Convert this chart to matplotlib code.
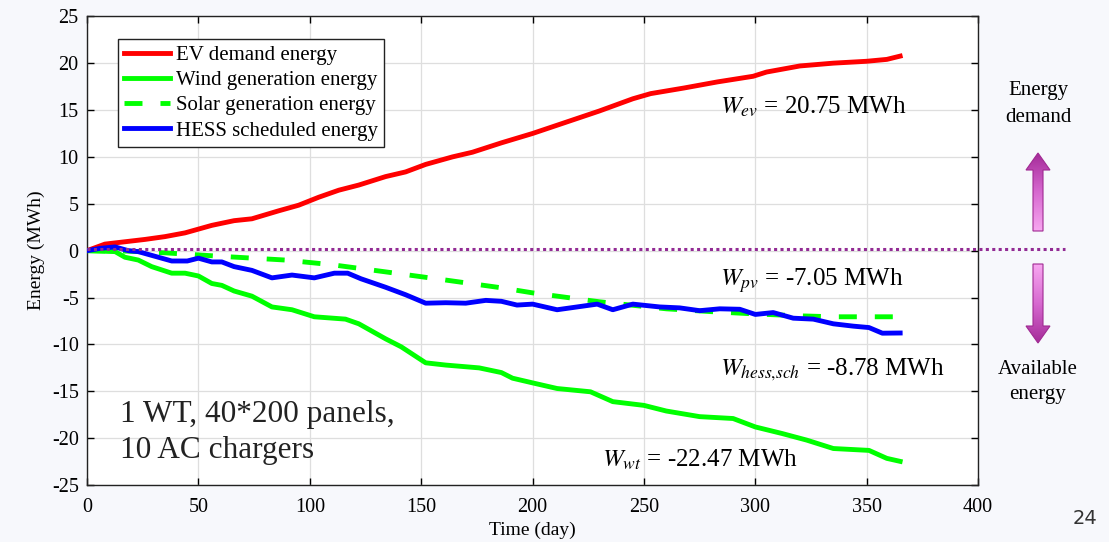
import matplotlib
matplotlib.use("Agg")
import matplotlib.pyplot as plt
import numpy as np
from matplotlib.patches import FancyArrow

plt.rcParams['font.family'] = ['Liberation Serif', 'DejaVu Serif']
plt.rcParams['mathtext.fontset'] = 'stix'
plt.rcParams['axes.unicode_minus'] = False

# EV demand energy (MWh) vs day
ev_days = [0, 8, 17, 26, 35, 44, 56, 66, 74, 86, 95, 104, 113, 122, 134, 143, 152,
           164, 173, 186, 200, 215, 230, 245, 253, 268, 283, 299, 305, 320, 335,
           350, 359, 365]
ev_vals = [0.0, 0.7, 0.95, 1.2, 1.5, 1.9, 2.7, 3.2, 3.4, 4.25, 4.85, 5.7, 6.45, 7.0,
           7.9, 8.4, 9.2, 10.0, 10.5, 11.5, 12.5, 13.7, 14.9, 16.2, 16.75, 17.35,
           18.0, 18.6, 19.05, 19.7, 20.0, 20.2, 20.4, 20.75]

# wind generation energy
wt_days = [0, 12.6, 17, 23, 29, 38, 44, 50, 56, 60.5, 66, 74, 83, 92, 102, 116, 122,
           134, 141, 152, 161, 176, 186, 191, 200, 211, 226, 236, 250, 260, 275,
           290, 300, 312, 323, 335, 351, 359, 365]
wt_vals = [0.0, -0.1, -0.7, -1.0, -1.7, -2.4, -2.4, -2.7, -3.5, -3.7, -4.3, -4.85,
           -6.0, -6.3, -7.05, -7.3, -7.8, -9.4, -10.25, -11.96, -12.2, -12.5, -13.0,
           -13.6, -14.1, -14.7, -15.05, -16.1, -16.5, -17.1, -17.7, -17.9, -18.8,
           -19.5, -20.2, -21.1, -21.3, -22.15, -22.47]

# solar generation energy
pv_days = [0, 18, 35, 60, 89, 110, 134, 160, 186, 200, 230, 260, 280, 300, 320, 335, 365]
pv_vals = [0.0, -0.05, -0.23, -0.6, -1.0, -1.5, -2.26, -3.1, -3.96, -4.5, -5.45,
           -6.2, -6.5, -6.75, -6.95, -7.05, -7.05]

# HESS scheduled energy
hess_days = [0, 6, 12.6, 18.5, 23, 29, 38, 45, 50, 56, 60.5, 66, 74, 83, 92, 102,
             111, 117, 123, 134, 143, 152, 161, 170, 179, 186, 193, 200, 211, 220,
             229, 236, 245, 257, 266, 275, 284, 293, 300, 308, 317, 326, 335, 344,
             351, 357, 365]
hess_vals = [0.0, 0.25, 0.4, 0.0, -0.1, -0.5, -1.1, -1.1, -0.8, -1.2, -1.2, -1.7,
             -2.1, -2.9, -2.6, -2.9, -2.4, -2.4, -3.0, -3.9, -4.7, -5.6, -5.55, -5.6,
             -5.3, -5.4, -5.8, -5.7, -6.3, -6.0, -5.7, -6.3, -5.7, -6.0, -6.1, -6.4,
             -6.2, -6.25, -6.8, -6.6, -7.2, -7.3, -7.8, -8.05, -8.2, -8.8, -8.78]

labels = ['EV demand energy', 'Wind generation energy',
          'Solar generation energy', 'HESS scheduled energy']

zero_level = 0.15
zero_end = 439

fig = plt.figure(figsize=(11.09, 5.42), dpi=100)
fig.patch.set_facecolor('#f7f8fc')
ax = fig.add_axes([0.0785, 0.105, 0.8035, 0.865])
ax.set_facecolor('white')

lw = 3.5
ax.plot(ev_days, ev_vals, color='#ff0000', lw=lw, label=labels[0], zorder=4)
ax.plot(wt_days, wt_vals, color='#00ff00', lw=lw, label=labels[1], zorder=4)
ax.plot(pv_days, pv_vals, color='#00ff00', lw=lw, dashes=(3.7, 3.7), label=labels[2], zorder=4)
ax.plot(hess_days, hess_vals, color='#0000ff', lw=lw, label=labels[3], zorder=5)

# dotted reference line, runs past the right axis
ax.plot([0, zero_end], [zero_level, zero_level], color='#922b94', lw=2.2,
        dashes=(1, 1.1), clip_on=False, zorder=6)

ax.set_xlim(0, 400)
ax.set_ylim(-25, 25)
ax.set_xticks(np.arange(0, 401, 50))
ax.set_yticks(np.arange(-25, 26, 5))
ax.grid(True, color='#dedede', lw=0.9)
ax.set_axisbelow(True)
ax.tick_params(direction='in', top=True, right=True, length=5, width=1,
               labelsize=14.5)
ax.tick_params(axis='x', pad=9)
ax.tick_params(axis='y', pad=6)
for s in ax.spines.values():
    s.set_linewidth(1.0)
    s.set_color('#222222')

ax.set_xlabel('Time (day)', fontsize=14, labelpad=4)
ax.set_ylabel('Energy (MWh)', fontsize=14, labelpad=5)

leg = ax.legend(loc='upper left', bbox_to_anchor=(0.035, 0.951), borderaxespad=0,
                fancybox=False, edgecolor='#222222', framealpha=1, fontsize=15,
                handlelength=2.2, handletextpad=0.25, labelspacing=0.27,
                borderpad=0.3)
leg.get_frame().set_linewidth(1.0)

ax.text(284, 15.3, r'$W_{ev}$ = 20.75 MWh', fontsize=18, va='center', zorder=7)
ax.text(284, -3.15, r'$W_{pv}$ = -7.05 MWh', fontsize=18, va='center', zorder=7)
ax.text(284, -12.7, r'$W_{hess{,}sch}$ = -8.78 MWh', fontsize=18, va='center',
        clip_on=False, zorder=7)
ax.text(231, -22.3, r'$W_{wt}$ = -22.47 MWh', fontsize=18, va='center', zorder=7)
ax.text(14.8, -19.4, '1 WT, 40*200 panels,\n10 AC chargers', fontsize=22.5,
        va='center', linespacing=1.35, color='#222222', zorder=7)

# overlay in pixel coordinates for the side arrows
ov = fig.add_axes([0, 0, 1, 1], zorder=10)
ov.set_xlim(0, 1109)
ov.set_ylim(542, 0)
ov.axis('off')
ov.patch.set_visible(False)

ov.text(1038, 104, 'Energy\ndemand', ha='center', va='center', fontsize=15,
        linespacing=1.5)
ov.text(1038, 382, 'Available\nenergy', ha='center', va='center', fontsize=15,
        linespacing=1.5)

grad = np.linspace(0, 1, 100).reshape(-1, 1)
cmap = matplotlib.colors.LinearSegmentedColormap.from_list(
    'pinkgrad', ['#a42a98', '#d668cf', '#f7a6f0'])

up = FancyArrow(1038, 231, 0, -78, width=10, head_width=24, head_length=17,
                length_includes_head=True, facecolor='none', edgecolor='#a02a92', lw=0.8)
down = FancyArrow(1038, 264, 0, 79, width=10, head_width=24, head_length=17,
                  length_includes_head=True, facecolor='none', edgecolor='#a02a92', lw=0.8)
ov.add_patch(up)
ov.add_patch(down)
im1 = ov.imshow(grad, extent=(1020, 1056, 231, 152), cmap=cmap, aspect='auto',
                origin='upper')
im1.set_clip_path(up)
im2 = ov.imshow(grad[::-1], extent=(1020, 1056, 344, 264), cmap=cmap, aspect='auto',
                origin='upper')
im2.set_clip_path(down)
ov.set_xlim(0, 1109)
ov.set_ylim(542, 0)

fig.text(1085 / 1109, 1 - 518 / 542, '24', family='DejaVu Sans', fontsize=14,
         color='#333333', ha='center', va='center')

fig.savefig('out.png', dpi=100, facecolor=fig.get_facecolor())
